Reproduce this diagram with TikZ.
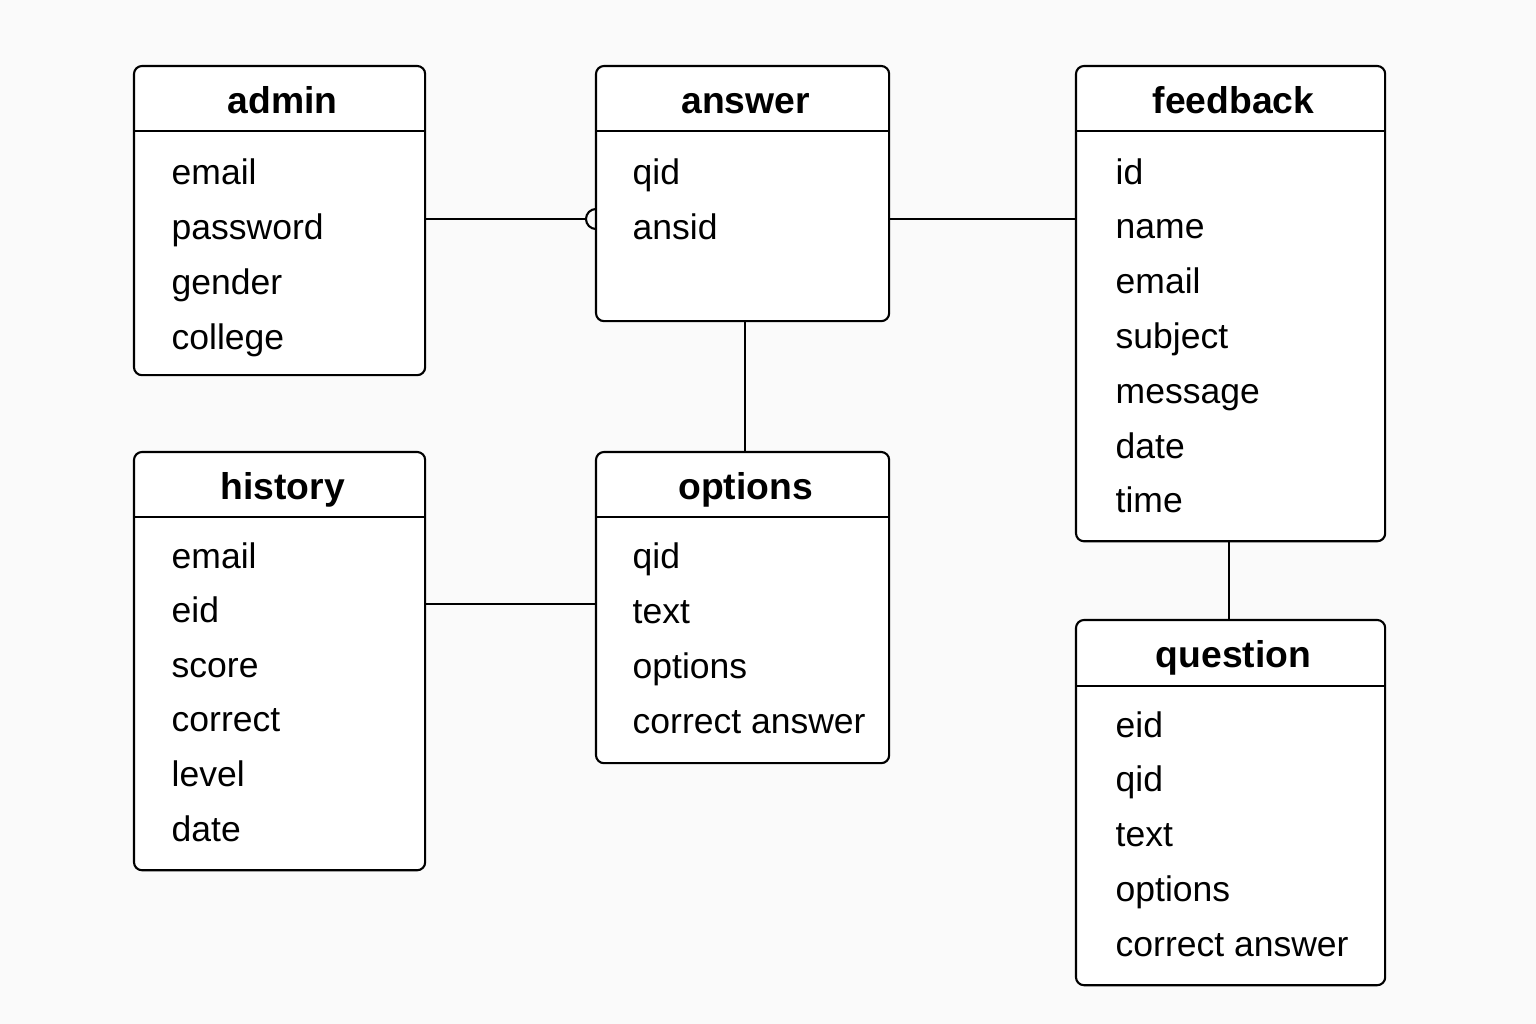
\documentclass[tikz,border=0pt]{standalone}
\usepackage{fontspec}
\setmainfont{Liberation Sans}
\usepackage{tikz}
\usetikzlibrary{positioning}
\definecolor{bgcol}{RGB}{250,250,250}

\begin{document}
\begin{tikzpicture}[
  x=0.01cm, y=-0.01cm,
  table/.style={rectangle, draw, rounded corners=0.08cm, fill=white,
                line width=0.6pt, inner sep=0pt, outer sep=0pt, anchor=north west},
  title/.style={font=\fontsize{10.6}{12}\selectfont\bfseries, anchor=base, inner sep=0pt, xshift=0.03cm},
  attr/.style={font=\fontsize{10.1}{12}\selectfont, anchor=base west, inner sep=0pt},
  link/.style={line width=0.6pt}
]
  \fill[bgcol] (0,0) rectangle (1536,1024);
  \useasboundingbox (0,0) rectangle (1536,1024);

  % tables
  \node[table, minimum width=2.91cm, minimum height=3.09cm] (admin) at (134,66) {};
  \node[table, minimum width=2.93cm, minimum height=2.55cm] (answer) at (596,66) {};
  \node[table, minimum width=3.09cm, minimum height=4.75cm] (feedback) at (1076,66) {};
  \node[table, minimum width=2.91cm, minimum height=4.18cm] (history) at (134,452) {};
  \node[table, minimum width=2.93cm, minimum height=3.11cm] (options) at (596,452) {};
  \node[table, minimum width=3.09cm, minimum height=3.65cm] (question) at (1076,620) {};

  % titles and header lines
  \node[title] (admin-t) at (admin.north |- 0,113) {admin};
  \node[title] (answer-t) at (answer.north |- 0,113) {answer};
  \node[title] (feedback-t) at (feedback.north |- 0,113) {feedback};
  \node[title] (history-t) at (history.north |- 0,499) {history};
  \node[title] (options-t) at (options.north |- 0,499) {options};
  \node[title] (question-t) at (question.north |- 0,667) {question};
  \foreach \t/\y in {admin/131, answer/131, feedback/131, history/517, options/517, question/686}
    \draw[link] (\t.west |- 0,\y) -- (\t.east |- 0,\y);

  % attributes
  \foreach \a [count=\i] in {email, password, gender, college}
    \node[attr] (admin-\i) at (171, 129+55*\i) {\a};
  \foreach \a [count=\i] in {qid, ansid}
    \node[attr] (answer-\i) at (632, 129+55*\i) {\a};
  \foreach \a [count=\i] in {id, name, email, subject, message, date, time}
    \node[attr] (feedback-\i) at (1115, 129.2+54.8*\i) {\a};
  \foreach \a [count=\i] in {email, eid, score, correct, level, date}
    \node[attr] (history-\i) at (171, 513.4+54.6*\i) {\a};
  \foreach \a [count=\i] in {qid, text, options, correct answer}
    \node[attr] (options-\i) at (632, 513+55*\i) {\a};
  \foreach \a [count=\i] in {eid, qid, text, options, correct answer}
    \node[attr] (question-\i) at (1115, 682.25+54.75*\i) {\a};

  % relations
  \coordinate (rel-y) at (0,219);
  \coordinate (opt-end) at ([xshift=-0.1cm]answer.west |- rel-y);
  \draw[link] (admin.east |- rel-y) -- (opt-end);
  \draw[link] ([yshift=0.1cm]answer.west |- rel-y) arc[start angle=90, end angle=270, radius=0.1cm];
  \draw[link] (answer.east |- rel-y) -- (feedback.west |- rel-y);
  \draw[link] ([xshift=0.02cm]answer.south) -- ([xshift=0.02cm]options.north);
  \draw[link] (history.east |- 0,604) -- (options.west |- 0,604);
  \draw[link] ([xshift=-0.02cm]feedback.south) -- ([xshift=-0.02cm]question.north);
\end{tikzpicture}
\end{document}
